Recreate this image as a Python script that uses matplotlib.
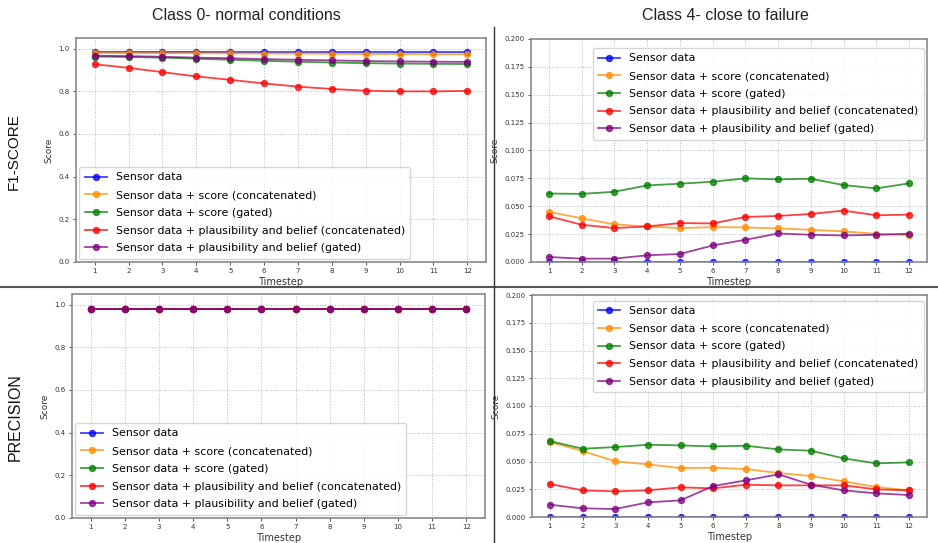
"""
Per-timestep F1-score and precision for two classes, five sensor-data variants.
"""

import matplotlib
matplotlib.use('Agg')
import matplotlib.pyplot as plt
from matplotlib.lines import Line2D

# ---------------------------------------------------------------------------
# Data
# ---------------------------------------------------------------------------
TIMESTEPS = list(range(1, 13))

LABELS = [
    'Sensor data',
    'Sensor data + score (concatenated)',
    'Sensor data + score (gated)',
    'Sensor data + plausibility and belief (concatenated)',
    'Sensor data + plausibility and belief (gated)',
]
COLORS = ['blue', 'darkorange', 'green', 'red', 'purple']

# F1, class 0
f1_c0_sensor  = [0.983] * 12
f1_c0_sc_cat  = [0.980, 0.980, 0.979, 0.979, 0.978, 0.977, 0.977, 0.976, 0.975, 0.975, 0.974, 0.974]
f1_c0_sc_gate = [0.963, 0.961, 0.958, 0.953, 0.948, 0.943, 0.939, 0.935, 0.932, 0.930, 0.929, 0.928]
f1_c0_pb_cat  = [0.927, 0.910, 0.890, 0.870, 0.854, 0.837, 0.822, 0.811, 0.803, 0.800, 0.800, 0.802]
f1_c0_pb_gate = [0.967, 0.965, 0.962, 0.958, 0.955, 0.951, 0.948, 0.945, 0.942, 0.940, 0.939, 0.938]

# F1, class 4
f1_c4_sensor  = [0.0] * 12
f1_c4_sc_cat  = [0.0449, 0.0392, 0.0337, 0.0319, 0.0304, 0.0313, 0.0310, 0.0301, 0.0289, 0.0274, 0.0253, 0.0241]
f1_c4_sc_gate = [0.0614, 0.0611, 0.0630, 0.0687, 0.0702, 0.0720, 0.0750, 0.0741, 0.0747, 0.0690, 0.0660, 0.0705]
f1_c4_pb_cat  = [0.0410, 0.0334, 0.0304, 0.0319, 0.0349, 0.0346, 0.0404, 0.0413, 0.0431, 0.0461, 0.0419, 0.0425]
f1_c4_pb_gate = [0.0045, 0.0030, 0.0030, 0.0060, 0.0072, 0.0148, 0.0199, 0.0256, 0.0244, 0.0238, 0.0244, 0.0253]

# Precision, class 0
pr_c0_sensor  = [0.978] * 12
pr_c0_sc_cat  = [0.978] * 12
pr_c0_sc_gate = [0.978] * 12
pr_c0_pb_cat  = [0.978] * 12
pr_c0_pb_gate = [0.978] * 12

# Precision, class 4
pr_c4_sensor  = [0.0] * 12
pr_c4_sc_cat  = [0.0675, 0.0594, 0.0501, 0.0474, 0.0441, 0.0444, 0.0432, 0.0396, 0.0369, 0.0321, 0.0270, 0.0240]
pr_c4_sc_gate = [0.0684, 0.0615, 0.0630, 0.0651, 0.0645, 0.0636, 0.0642, 0.0609, 0.0597, 0.0528, 0.0483, 0.0492]
pr_c4_pb_cat  = [0.0297, 0.0240, 0.0231, 0.0240, 0.0267, 0.0258, 0.0291, 0.0285, 0.0285, 0.0285, 0.0249, 0.0240]
pr_c4_pb_gate = [0.0111, 0.0078, 0.0072, 0.0132, 0.0150, 0.0279, 0.0330, 0.0384, 0.0291, 0.0240, 0.0213, 0.0198]

# ---------------------------------------------------------------------------
# Layout (pixels, origin top-left)
# ---------------------------------------------------------------------------
W, H = 938, 543


def px_rect(x0, y0, x1, y1):
    return [x0 / W, 1 - y1 / H, (x1 - x0) / W, (y1 - y0) / H]


def draw_panel(fig, rect, series, ylim, yticks, ytick_fmt, legend_loc, anchor):
    ax = fig.add_axes(px_rect(*rect))
    for vals, label, color in zip(series, LABELS, COLORS):
        ax.plot(TIMESTEPS, vals, marker='o', markersize=4.3, linewidth=1.3,
                color=color, alpha=0.75, label=label)
    ax.set_ylim(*ylim)
    ax.set_yticks(yticks)
    ax.set_yticklabels([ytick_fmt.format(v) for v in yticks])
    ax.set_xticks(TIMESTEPS)
    ax.tick_params(labelsize=5, length=2.5, width=0.6, colors='#333333', pad=2)
    ax.grid(True, linestyle=':', color='#bbbbbb', linewidth=0.7)
    for sp in ax.spines.values():
        sp.set_color('#8a8a8a')
        sp.set_linewidth(1.2)
    ax.set_xlabel('Timestep', fontsize=7, color='#333333', labelpad=2)
    ax.set_ylabel('Score', fontsize=6.5, color='#333333', labelpad=4)
    ax.legend(loc=legend_loc, bbox_to_anchor=anchor, fontsize=7.9,
              handlelength=2.0, borderpad=0.5, labelspacing=0.7,
              handletextpad=0.8, borderaxespad=0.3)
    return ax


fig = plt.figure(figsize=(W / 100, H / 100), dpi=100)

draw_panel(fig, (76, 38, 486, 262),
           [f1_c0_sensor, f1_c0_sc_cat, f1_c0_sc_gate, f1_c0_pb_cat, f1_c0_pb_gate],
           (0, 1.05), [0.0, 0.2, 0.4, 0.6, 0.8, 1.0], '{:.1f}', 'lower left', (0, 0))
draw_panel(fig, (531, 39, 927, 262),
           [f1_c4_sensor, f1_c4_sc_cat, f1_c4_sc_gate, f1_c4_pb_cat, f1_c4_pb_gate],
           (0, 0.2), [0.0, 0.025, 0.05, 0.075, 0.1, 0.125, 0.15, 0.175, 0.2], '{:.3f}',
           'upper right', (1, 0.975))
draw_panel(fig, (72, 294, 485, 518),
           [pr_c0_sensor, pr_c0_sc_cat, pr_c0_sc_gate, pr_c0_pb_cat, pr_c0_pb_gate],
           (0, 1.05), [0.0, 0.2, 0.4, 0.6, 0.8, 1.0], '{:.1f}', 'lower left', (0, 0))
draw_panel(fig, (532, 295, 927, 517),
           [pr_c4_sensor, pr_c4_sc_cat, pr_c4_sc_gate, pr_c4_pb_cat, pr_c4_pb_gate],
           (0, 0.2), [0.0, 0.025, 0.05, 0.075, 0.1, 0.125, 0.15, 0.175, 0.2], '{:.3f}',
           'upper right', (1, 0.99))

# --- headers and row labels ---
head_font = ['Liberation Sans', 'DejaVu Sans']
fig.text(246 / W, 1 - 15 / H, 'Class 0- normal conditions', ha='center', va='center',
         fontsize=11.5, family=head_font, color='#222222')
fig.text(725 / W, 1 - 15 / H, 'Class 4- close to failure', ha='center', va='center',
         fontsize=11.5, family=head_font, color='#222222')
fig.text(14 / W, 1 - 152 / H, 'F1-SCORE', rotation=90, ha='center', va='center',
         fontsize=11, family=head_font, color='#111111')
fig.text(15 / W, 1 - 417 / H, 'PRECISION', rotation=90, ha='center', va='center',
         fontsize=11.5, family=head_font, color='#111111')

# --- separators ---
fig.add_artist(Line2D([0, 1], [1 - 287 / H] * 2, transform=fig.transFigure,
                      color='#555555', linewidth=1.5))
fig.add_artist(Line2D([494 / W] * 2, [0, 1 - 27 / H], transform=fig.transFigure,
                      color='#333333', linewidth=1.0))

fig.savefig('out.png', dpi=100)
